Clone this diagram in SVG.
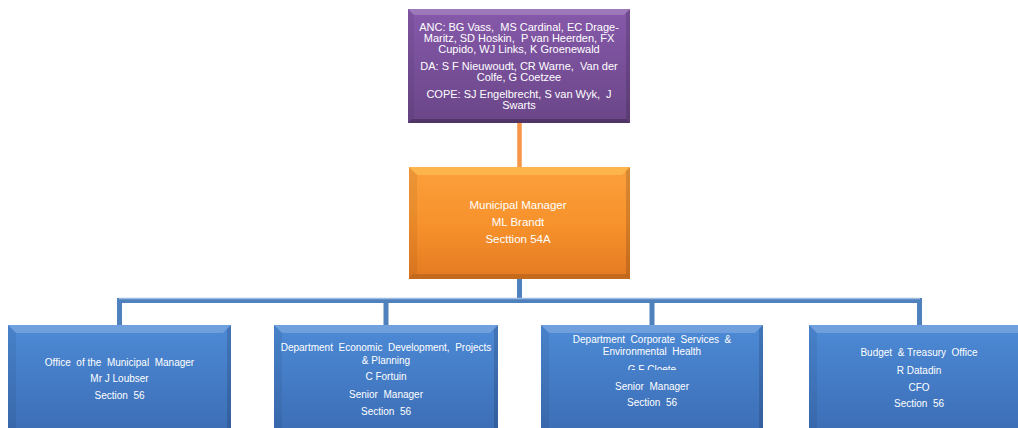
<svg xmlns="http://www.w3.org/2000/svg" width="1018" height="428" viewBox="0 0 1018 428">
  <defs>
    <linearGradient id="gPurple" x1="0" y1="0" x2="0" y2="1">
      <stop offset="0" stop-color="#8659aa"/>
      <stop offset="1" stop-color="#6a4688"/>
    </linearGradient>
    <linearGradient id="gOrange" x1="0" y1="0" x2="0" y2="1">
      <stop offset="0" stop-color="#fba03c"/>
      <stop offset="0.5" stop-color="#f7922c"/>
      <stop offset="1" stop-color="#e47a22"/>
    </linearGradient>
    <linearGradient id="gBlue" x1="0" y1="0" x2="0" y2="1">
      <stop offset="0" stop-color="#4d8ad6"/>
      <stop offset="1" stop-color="#3b6db4"/>
    </linearGradient>
    <clipPath id="clipCloete">
      <rect x="541" y="355" width="222" height="15"/>
    </clipPath>
  </defs>
  <style>
    text { font-family: "Liberation Sans", Arial, sans-serif; fill: #ffffff; text-anchor: middle; white-space: pre; }
    .tp { font-size: 11px; }
    .to { font-size: 11.5px; }
    .tb { font-size: 10px; }
    .bevTop { fill: #ffffff; fill-opacity: 0.2; }
    .bevSide { fill: #000000; fill-opacity: 0.06; }
    .bevRight { fill: #000000; fill-opacity: 0.14; }
    .bevBottom { fill: #000000; fill-opacity: 0.25; }
    .conO { stroke: #f79646; stroke-width: 4.5; fill: none; }
    .conB { stroke: #4f81bd; stroke-width: 5; fill: none; }
    .conBh { stroke: #9cbbe3; stroke-width: 1.5; fill: none; }
  </style>

  <g id="connectors">
    <line class="conO" x1="519.5" y1="123" x2="519.5" y2="167"/>
    <path class="conB" d="M519.5 279 V300.5 M119.5 326 V300.5 H919.5 V326 M386 300.5 V326 M652 300.5 V326"/>
    <path class="conBh" d="M119 298.5 H920"/>
  </g>

  <g id="council">
    <rect x="408" y="9" width="222" height="114" fill="url(#gPurple)"/>
    <polygon class="bevTop" points="408,9 630,9 624,15 414,15"/>
    <polygon class="bevSide" points="408,9 414,15 414,117 408,123"/>
    <polygon class="bevRight" points="630,9 630,123 626,119 626,13"/>
    <polygon class="bevBottom" points="408,123 630,123 626,119 412,119"/>
    <text class="tp" x="519" y="31">ANC: BG Vass,  MS Cardinal, EC Drage-</text>
    <text class="tp" x="519" y="42">Maritz, SD Hoskin,  P van Heerden, FX</text>
    <text class="tp" x="519" y="53">Cupido, WJ Links, K Groenewald</text>
    <text class="tp" x="519" y="70">DA: S F Nieuwoudt, CR Warne,  Van der</text>
    <text class="tp" x="519" y="81">Colfe, G Coetzee</text>
    <text class="tp" x="519" y="98">COPE: SJ Engelbrecht, S van Wyk,  J</text>
    <text class="tp" x="519" y="109">Swarts</text>
  </g>

  <g id="municipal-manager">
    <rect x="409" y="167" width="221" height="112" fill="url(#gOrange)"/>
    <polygon points="409,167 630,167 622,175 417,175" fill="#ffd060" fill-opacity="0.45"/>
    <polygon class="bevSide" points="409,167 417,175 417,273 409,279"/>
    <polygon class="bevRight" points="630,167 630,279 626,275 626,171"/>
    <polygon points="409,279 630,279 626,274 413,274" fill="#8a4a10" fill-opacity="0.35"/>
    <text class="to" x="518" y="209">Municipal Manager</text>
    <text class="to" x="518" y="226">ML Brandt</text>
    <text class="to" x="518" y="243">Secttion 54A</text>
  </g>

  <g id="office-mm">
    <rect x="8" y="325" width="223" height="110" fill="url(#gBlue)"/>
    <polygon class="bevTop" points="8,325 231,325 223,333 16,333"/>
    <polygon class="bevSide" points="8,325 16,333 16,435 8,435"/>
    <polygon class="bevRight" points="231,325 231,435 227,435 227,329"/>
    <text class="tb" x="119.5" y="366">Office  of the  Municipal  Manager</text>
    <text class="tb" x="119.5" y="382">Mr J Loubser</text>
    <text class="tb" x="119.5" y="399">Section  56</text>
  </g>

  <g id="dept-economic">
    <rect x="274" y="325" width="224" height="110" fill="url(#gBlue)"/>
    <polygon class="bevTop" points="274,325 498,325 490,333 282,333"/>
    <polygon class="bevSide" points="274,325 282,333 282,435 274,435"/>
    <polygon class="bevRight" points="498,325 498,435 494,435 494,329"/>
    <text class="tb" x="386" y="351">Department  Economic  Development,  Projects</text>
    <text class="tb" x="386" y="364">&amp; Planning</text>
    <text class="tb" x="386" y="380">C Fortuin</text>
    <text class="tb" x="386" y="398">Senior  Manager</text>
    <text class="tb" x="386" y="415">Section  56</text>
  </g>

  <g id="dept-corporate">
    <rect x="541" y="325" width="222" height="110" fill="url(#gBlue)"/>
    <polygon class="bevTop" points="541,325 763,325 755,333 549,333"/>
    <polygon class="bevSide" points="541,325 549,333 549,435 541,435"/>
    <polygon class="bevRight" points="763,325 763,435 759,435 759,329"/>
    <text class="tb" x="652" y="343">Department  Corporate  Services  &amp;</text>
    <text class="tb" x="652" y="355">Environmental  Health</text>
    <text class="tb" x="652" y="373" clip-path="url(#clipCloete)">G F Cloete</text>
    <text class="tb" x="652" y="390">Senior  Manager</text>
    <text class="tb" x="652" y="406">Section  56</text>
  </g>

  <g id="budget-treasury">
    <rect x="809" y="325" width="222" height="110" fill="url(#gBlue)"/>
    <polygon class="bevTop" points="809,325 1031,325 1023,333 817,333"/>
    <polygon class="bevSide" points="809,325 817,333 817,435 809,435"/>
    <text class="tb" x="919" y="356">Budget  &amp; Treasury  Office</text>
    <text class="tb" x="919" y="374">R Datadin</text>
    <text class="tb" x="919" y="391">CFO</text>
    <text class="tb" x="919" y="407">Section  56</text>
  </g>
</svg>
